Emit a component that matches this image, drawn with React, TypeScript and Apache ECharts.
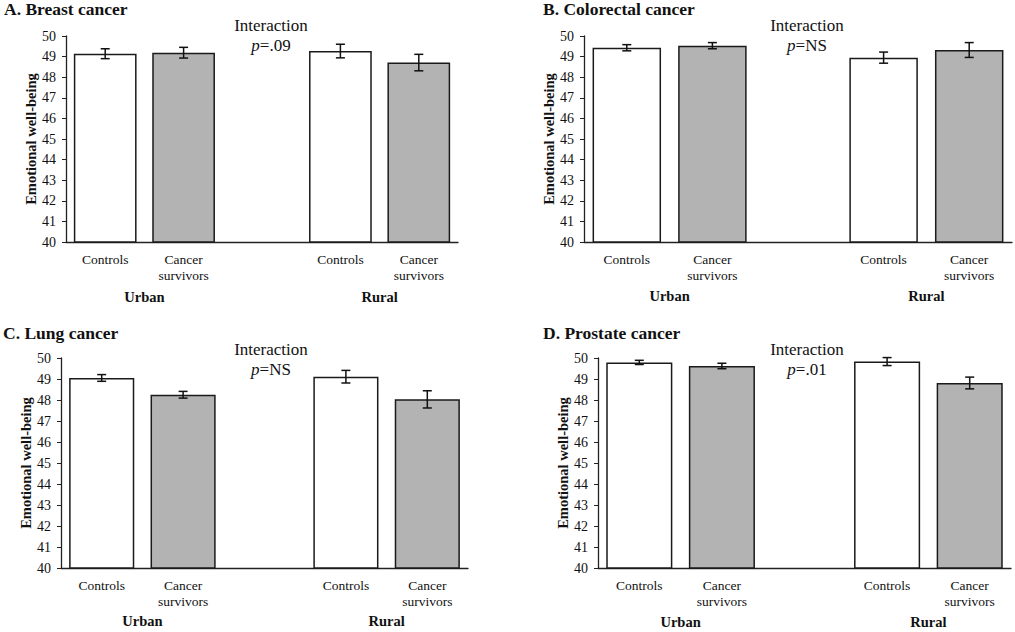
import React, { useEffect, useRef } from "react";
import * as echarts from "echarts";

const categories = ["Controls", "Cancer survivors", "", "Controls", "Cancer survivors"];
const groupLabels = ["", "Urban", "", "", "Rural", ""];
const yTicks = { min: 40, max: 50, interval: 1 };

const breastMeans = [49.14, 49.19, null, 49.27, 48.71];
const breastErr = [0.24, 0.26, null, 0.33, 0.4];
const colorectalMeans = [49.43, 49.53, null, 48.95, 49.32];
const colorectalErr = [0.15, 0.15, null, 0.27, 0.36];
const lungMeans = [49.05, 48.25, null, 49.11, 48.03];
const lungErr = [0.16, 0.16, null, 0.3, 0.41];
const prostateMeans = [49.79, 49.62, null, 49.83, 48.81];
const prostateErr = [0.1, 0.13, null, 0.19, 0.28];

const panels = [
  { title: "A. Breast cancer", p: ".09", mean: breastMeans, err: breastErr },
  { title: "B. Colorectal cancer", p: "NS", mean: colorectalMeans, err: colorectalErr },
  { title: "C. Lung cancer", p: "NS", mean: lungMeans, err: lungErr },
  { title: "D. Prostate cancer", p: ".01", mean: prostateMeans, err: prostateErr },
];

const layout = [
  { left: 66, top: 36, width: 392, height: 206, tx: 4, ty: 9, ix: 271, iy: 25, gm: 47, ng: 28 },
  { left: 584, top: 36, width: 429, height: 206, tx: 543, ty: 9, ix: 807, iy: 25, gm: 46, ng: 28 },
  { left: 61, top: 358, width: 407, height: 210, tx: 3, ty: 333, ix: 271, iy: 349, gm: 45, ng: 28 },
  { left: 598, top: 358, width: 413, height: 210, tx: 543, ty: 333, ix: 807, iy: 349, gm: 46, ng: 28 },
];

const FONT = "Liberation Serif";
const FILLS = ["#ffffff", "#b3b3b3", "#ffffff", "#ffffff", "#b3b3b3"];

export default function App() {
  const ref = useRef<HTMLDivElement>(null);
  useEffect(() => {
    const chart = echarts.init(ref.current!, null, { renderer: "svg" });
    const grid: any[] = [];
    const xAxis: any[] = [];
    const yAxis: any[] = [];
    const series: any[] = [];
    const graphic: any[] = [];
    panels.forEach((pn, i) => {
      const L = layout[i];
      grid.push({ left: L.left, top: L.top, width: L.width, height: L.height });
      xAxis.push({
        type: "category",
        gridIndex: i,
        data: categories,
        axisLine: { show: true, lineStyle: { color: "#222", width: 1.3 } },
        axisTick: { show: false },
        axisLabel: {
          interval: 0,
          margin: 9,
          color: "#111",
          fontFamily: FONT,
          fontSize: 13.5,
          lineHeight: 16,
          formatter: (v: string) => v.replace(" ", "\n"),
        },
      });
      xAxis.push({
        type: "category",
        gridIndex: i,
        position: "bottom",
        boundaryGap: false,
        data: groupLabels,
        axisLine: { show: false },
        axisTick: { show: false },
        axisLabel: {
          interval: 0,
          margin: L.gm,
          color: "#111",
          fontFamily: FONT,
          fontSize: 14.5,
          fontWeight: "bold",
        },
      });
      yAxis.push({
        type: "value",
        gridIndex: i,
        min: yTicks.min,
        max: yTicks.max,
        interval: yTicks.interval,
        splitLine: { show: false },
        axisLine: { show: true, lineStyle: { color: "#222", width: 1.3 } },
        axisTick: { show: true, length: 4, lineStyle: { color: "#222" } },
        axisLabel: { margin: 10, color: "#111", fontFamily: FONT, fontSize: 14 },
        name: "Emotional well-being",
        nameLocation: "middle",
        nameGap: L.ng,
        nameTextStyle: { fontFamily: FONT, fontSize: 14.5, fontWeight: "bold", color: "#111" },
      });
      series.push({
        type: "bar",
        xAxisIndex: 2 * i,
        yAxisIndex: i,
        barWidth: "80%",
        data: pn.mean.map((v, k) =>
          v == null
            ? "-"
            : { value: v, itemStyle: { color: FILLS[k], borderColor: "#1a1a1a", borderWidth: 1.5 } }
        ),
      });
      const errData: any[] = [];
      pn.mean.forEach((v, k) => {
        if (v != null) errData.push([k, v - (pn.err[k] as number), v + (pn.err[k] as number)]);
      });
      series.push({
        type: "custom",
        xAxisIndex: 2 * i,
        yAxisIndex: i,
        data: errData,
        z: 10,
        renderItem: (params: any, api: any) => {
          const x = api.value(0);
          const lo = api.coord([x, api.value(1)]);
          const hi = api.coord([x, api.value(2)]);
          const hw = 4.5;
          const st = { stroke: "#111", lineWidth: 1.5 };
          return {
            type: "group",
            children: [
              { type: "line", shape: { x1: lo[0], y1: lo[1], x2: hi[0], y2: hi[1] }, style: st },
              { type: "line", shape: { x1: lo[0] - hw, y1: lo[1], x2: lo[0] + hw, y2: lo[1] }, style: st },
              { type: "line", shape: { x1: hi[0] - hw, y1: hi[1], x2: hi[0] + hw, y2: hi[1] }, style: st },
            ],
          };
        },
      });
      graphic.push({
        type: "text",
        x: L.tx,
        y: L.ty,
        style: {
          text: pn.title,
          fontFamily: FONT,
          fontSize: 17.5,
          fontWeight: "bold",
          fill: "#111",
          verticalAlign: "middle",
          align: "left",
        },
      });
      graphic.push({
        type: "text",
        x: L.ix,
        y: L.iy,
        style: {
          text: "Interaction",
          fontFamily: FONT,
          fontSize: 17,
          fill: "#111",
          align: "center",
          verticalAlign: "middle",
        },
      });
      graphic.push({
        type: "text",
        x: L.ix,
        y: L.iy + 20,
        style: {
          text: "{i|p}{n|=" + pn.p + "}",
          fontFamily: FONT,
          fontSize: 17,
          fill: "#111",
          align: "center",
          verticalAlign: "middle",
          rich: {
            i: { fontFamily: FONT, fontSize: 17, fontStyle: "italic", fill: "#111" },
            n: { fontFamily: FONT, fontSize: 17, fill: "#111" },
          },
        },
      });
    });
    chart.setOption({
      animation: false,
      backgroundColor: "#ffffff",
      textStyle: { fontFamily: FONT },
      grid,
      xAxis,
      yAxis,
      series,
      graphic,
    });
    return () => chart.dispose();
  }, []);
  return (
    <div
      ref={ref}
      style={{ position: "absolute", left: 0, top: 0, width: 1015, height: 632 }}
    />
  );
}
